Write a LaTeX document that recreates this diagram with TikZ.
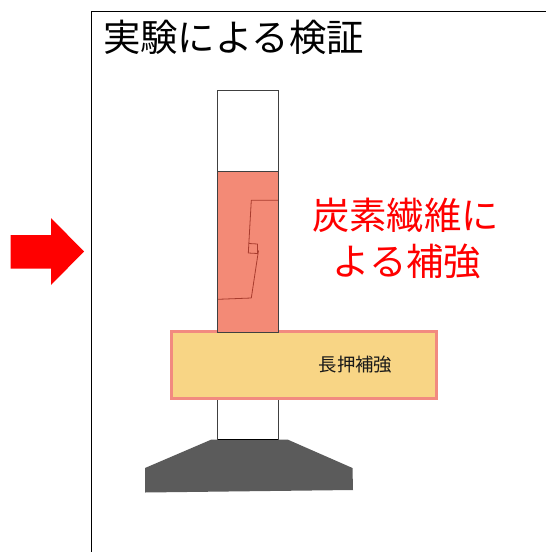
\documentclass[tikz,border=0pt]{standalone}
\usepackage{fontspec}
\newfontfamily\cjk{Noto Sans CJK JP}
\definecolor{fiber}{HTML}{F38A76}
\definecolor{beamfill}{HTML}{F8D585}
\definecolor{beamedge}{HTML}{F28A80}
\definecolor{basefill}{HTML}{5B5B5B}
\definecolor{crack}{HTML}{A83C2E}
\tikzset{
  outline/.style={draw=black!75,line width=0.9pt},
  cracks/.style={draw=crack,line width=0.8pt,line join=round},
  bigtext/.style={inner sep=0pt,font=\cjk\fontsize{37.4}{37.4}\selectfont},
}
\begin{document}
\begin{tikzpicture}[x=1pt,y=-1pt]
\useasboundingbox (0,0) rectangle (546,552);
% frame
\draw[black,line width=0.9pt] (91.5,552) -- (91.5,11.5) -- (546,11.5);
% arrow
\fill[red] (10.5,235) -- (51,235) -- (51,218) -- (84,251.5) -- (51,285) -- (51,268.5) -- (10.5,268.5) -- cycle;
% title
\node[bigtext,anchor=center] (title) at (233.5,37) {実験による検証};
% column
\draw[outline,fill=white] (217.5,90.5) rectangle (278,439.5);
% footing
\fill[basefill] (145,468) -- (211.5,439.5) -- (287.5,439.5) -- (352.5,468) -- (353,490) -- (145,492.5) -- cycle;
\draw[black,line width=0.8pt] (217.5,439.5) -- (278,439.5);
% beam
\draw[draw=beamedge,fill=beamfill,line width=3pt] (171,331.5) rectangle (436,398);
% carbon fibre
\draw[outline,fill=fiber] (217,171) rectangle (278,332);
% crack
\draw[cracks] (278,200.3) -- (251.3,200.3) -- (248.3,253) -- (257.5,253.5) -- (257.5,244) -- (248.8,243.5);
\draw[cracks] (258.5,250.5) -- (251.3,298) -- (218,299.3);
\node[inner sep=0pt,font=\cjk\fontsize{18.4}{18.4}\selectfont,text=black!90] (label) at (355.5,365) {長押補強};
% red note
\node[bigtext,text=red] (noteA) at (405.5,215.5) {炭素繊維に};
\node[bigtext,text=red] (noteB) at (407,261) {よる補強};
\end{tikzpicture}
\end{document}
